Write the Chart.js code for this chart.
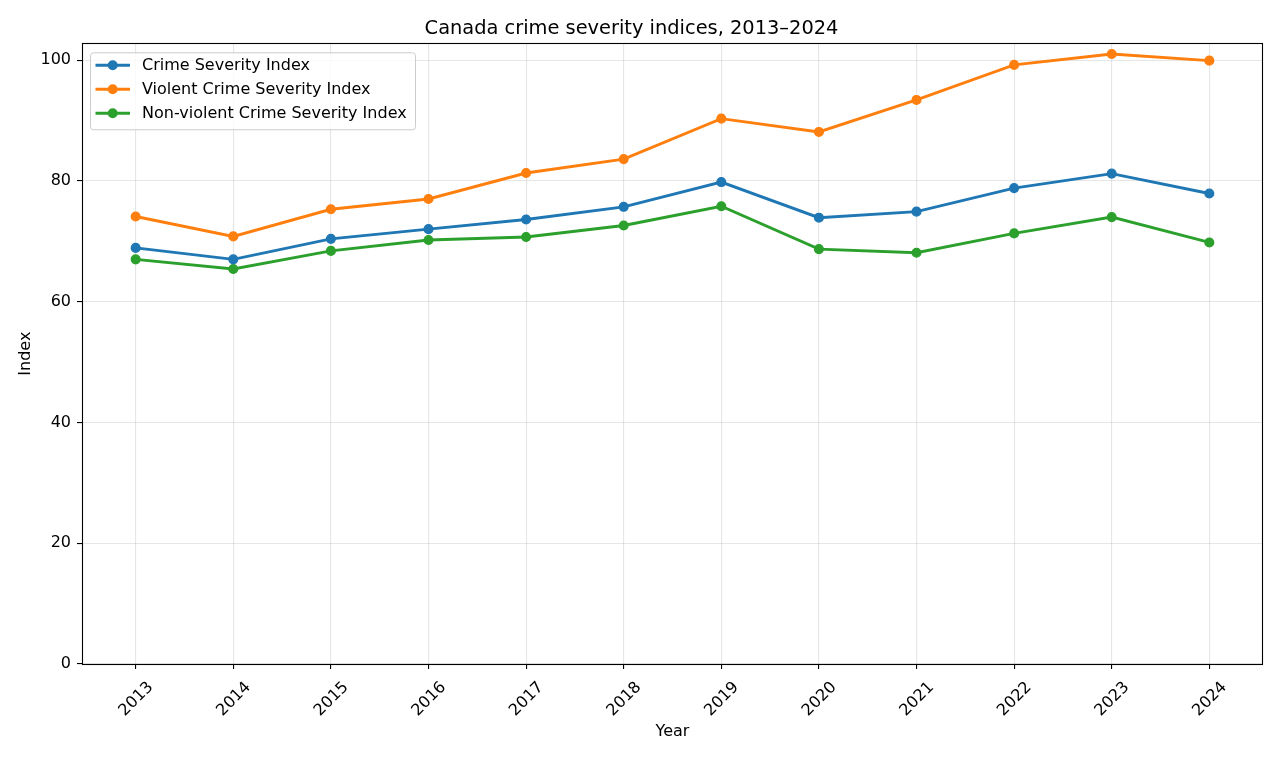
<!DOCTYPE html>
<html><head><meta charset="utf-8">
<script src="https://cdn.jsdelivr.net/npm/chart.js@4.4.1/dist/chart.umd.min.js"></script>
<style>html,body{margin:0;padding:0;background:#fff;} canvas{display:block;}</style>
</head><body>
<canvas id="c" width="1280" height="757"></canvas>
<script>
const years = [2013, 2014, 2015, 2016, 2017, 2018, 2019, 2020, 2021, 2022, 2023, 2024];
const crimeSeverity = [68.9, 67.0, 70.4, 72.0, 73.6, 75.7, 79.8, 73.9, 74.9, 78.8, 81.2, 77.9];
const violentCrimeSeverity = [74.1, 70.8, 75.3, 77.0, 81.3, 83.6, 90.3, 88.1, 93.4, 99.2, 101.0, 99.9];
const nonViolentCrimeSeverity = [67.0, 65.4, 68.4, 70.2, 70.7, 72.6, 75.8, 68.7, 68.1, 71.3, 74.0, 69.8];
const seriesLabels = ['Crime Severity Index', 'Violent Crime Severity Index', 'Non-violent Crime Severity Index'];
const yTicks = [0, 20, 40, 60, 80, 100];

const colors = ['#1f77b4', '#ff7f0e', '#2ca02c'];
const FONT = 'DejaVu Sans';
const FS = 16;
const pts = vals => vals.map((v, i) => ({x: years[i], y: v}));
const allVals = [...crimeSeverity, ...violentCrimeSeverity, ...nonViolentCrimeSeverity];
const dMax = Math.max(...allVals), dMin = Math.min(...allVals);
const yMax = dMax + 0.05 * (dMax - dMin);
const xMin = years[0] - 0.05 * (years[years.length - 1] - years[0]);
const xMax = years[years.length - 1] + 0.05 * (years[years.length - 1] - years[0]);

const mkDs = (label, vals, c) => ({
  label, data: pts(vals), borderColor: c, backgroundColor: c,
  pointBackgroundColor: c, pointBorderColor: c, borderWidth: 2.9,
  pointRadius: 4.4, pointBorderWidth: 1.3, pointHoverRadius: 4.4,
  tension: 0, clip: false
});

const gridColor = 'rgba(176,176,176,0.32)';

const framePlugin = {
  id: 'frameLegend',
  afterDraw(chart) {
    const ctx = chart.ctx, a = chart.chartArea;
    ctx.save();
    ctx.strokeStyle = '#000';
    ctx.lineWidth = 1.1;
    ctx.strokeRect(Math.round(a.left) + 0.5, Math.round(a.top) + 0.5,
      Math.round(a.right - a.left) - 1, Math.round(a.bottom - a.top));
    // legend
    const bx = a.left + 8.5, by = a.top + 9.5, bw = 325, bh = 77, r = 3;
    ctx.beginPath();
    ctx.moveTo(bx + r, by);
    ctx.arcTo(bx + bw, by, bx + bw, by + bh, r);
    ctx.arcTo(bx + bw, by + bh, bx, by + bh, r);
    ctx.arcTo(bx, by + bh, bx, by, r);
    ctx.arcTo(bx, by, bx + bw, by, r);
    ctx.closePath();
    ctx.fillStyle = 'rgba(255,255,255,0.8)';
    ctx.fill();
    ctx.strokeStyle = '#cccccc';
    ctx.lineWidth = 1;
    ctx.stroke();
    ctx.font = FS + 'px "' + FONT + '"';
    ctx.textBaseline = 'middle';
    ctx.textAlign = 'left';
    chart.data.datasets.forEach((ds, i) => {
      const y = a.top + 22 + i * 24;
      ctx.strokeStyle = ds.borderColor;
      ctx.lineWidth = 2.9;
      ctx.beginPath();
      ctx.moveTo(a.left + 13.5, y);
      ctx.lineTo(a.left + 48, y);
      ctx.stroke();
      ctx.fillStyle = ds.borderColor;
      ctx.beginPath();
      ctx.arc(a.left + 30.7, y, 5, 0, Math.PI * 2);
      ctx.fill();
      ctx.fillStyle = '#000';
      ctx.fillText(ds.label, a.left + 60, y + 1);
    });
    ctx.restore();
  }
};

new Chart(document.getElementById('c'), {
  type: 'line',
  data: {
    datasets: [
      mkDs(seriesLabels[0], crimeSeverity, colors[0]),
      mkDs(seriesLabels[1], violentCrimeSeverity, colors[1]),
      mkDs(seriesLabels[2], nonViolentCrimeSeverity, colors[2])
    ]
  },
  options: {
    responsive: false,
    animation: false,
    devicePixelRatio: 1,
    layout: {padding: {left: 0, right: 17, top: 0, bottom: 0}},
    plugins: {
      legend: {display: false},
      tooltip: {enabled: false},
      title: {
        display: true, text: 'Canada crime severity indices, 2013–2024', color: '#000',
        font: {family: FONT, size: 19.4, weight: 'normal'},
        padding: {top: 17, bottom: 3}
      }
    },
    scales: {
      x: {
        type: 'linear', min: xMin, max: xMax,
        afterFit: s => { s.height = 93; },
        ticks: {
          stepSize: 1, includeBounds: false, autoSkip: false,
          minRotation: 45, maxRotation: 45, color: '#000',
          font: {family: FONT, size: FS}, padding: 9, labelOffset: 15,
          callback: v => years.includes(v) ? String(v) : ''
        },
        grid: {color: gridColor, lineWidth: 1.1, tickLength: 5, tickColor: '#000', tickWidth: 1.1},
        border: {display: false},
        title: {display: true, text: 'Year', color: '#000', font: {family: FONT, size: FS}, padding: {top: 0, bottom: 16}}
      },
      y: {
        min: 0, max: yMax,
        afterFit: s => { s.width = 82; },
        afterBuildTicks: s => { s.ticks = yTicks.map(v => ({value: v})); },
        ticks: {color: '#000', font: {family: FONT, size: FS}, padding: 6},
        grid: {color: gridColor, lineWidth: 1.1, tickLength: 5, tickColor: '#000', tickWidth: 1.1},
        border: {display: false},
        title: {display: true, text: 'Index', color: '#000', font: {family: FONT, size: FS}, padding: {top: 16, bottom: 0}}
      }
    }
  },
  plugins: [framePlugin]
});
</script>
</body></html>
